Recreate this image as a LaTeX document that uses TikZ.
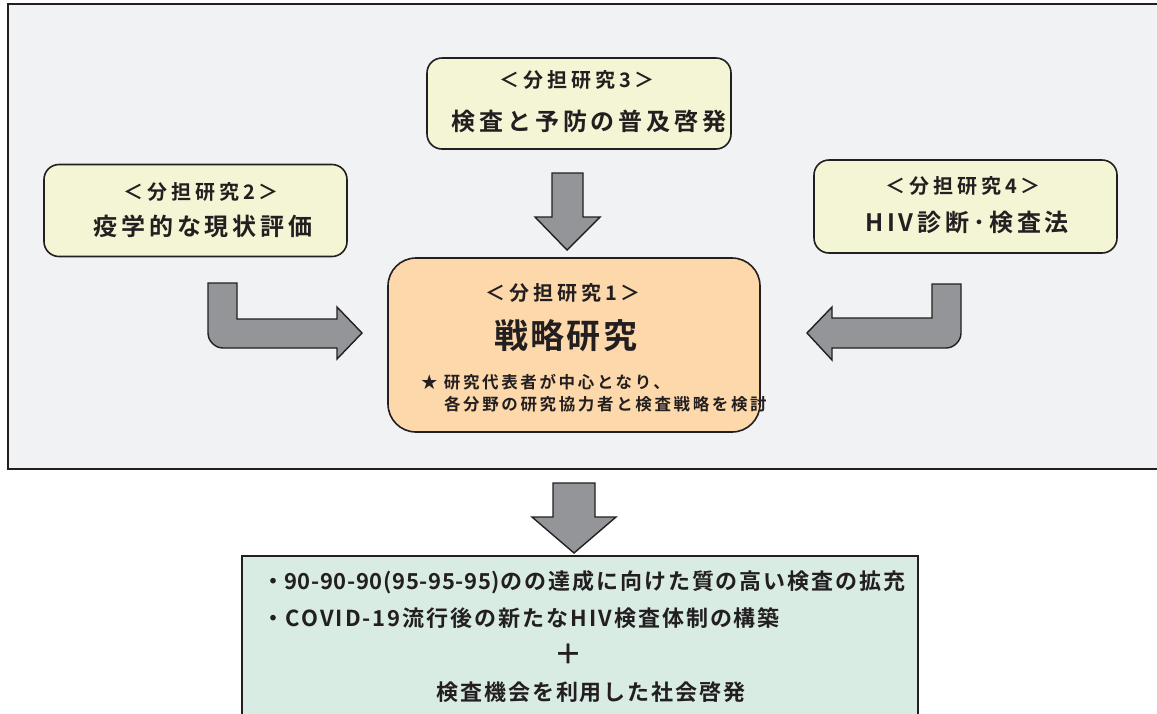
\documentclass[tikz,border=0pt]{standalone}
\usepackage{fontspec}
\newfontfamily\jp{Noto Sans CJK JP}[BoldFont={* Bold}]
\definecolor{outerbg}{HTML}{F1F2F4}
\definecolor{ybox}{HTML}{F4F5D4}
\definecolor{obox}{HTML}{FDD8AB}
\definecolor{gbox}{HTML}{D8ECE3}
\definecolor{arrowfill}{HTML}{939598}
\definecolor{ink}{HTML}{231F20}
\begin{document}
\begin{tikzpicture}[x=1pt,y=-1pt,
  every node/.style={inner sep=0pt,outer sep=0pt,text=ink},
  boxbase/.style={draw=ink,line width=1.6pt,rectangle},
  ybx/.style={boxbase,fill=ybox,rounded corners=15pt},
  blockarrow/.style={draw=ink,line width=1.4pt,fill=arrowfill,line join=miter},
  sub/.style={font=\jp\bfseries\fontsize{20}{23}\selectfont\addfontfeature{LetterSpace=20}},
  ttl/.style={font=\jp\bfseries\fontsize{24}{28}\selectfont\addfontfeature{LetterSpace=16}},
  big/.style={font=\jp\bfseries\fontsize{34}{38}\selectfont\addfontfeature{LetterSpace=6}},
  small/.style={font=\jp\bfseries\fontsize{16.5}{19}\selectfont\addfontfeature{LetterSpace=16},anchor=west},
  gtext/.style={font=\jp\bfseries\fontsize{22}{26}\selectfont\addfontfeature{LetterSpace=9}}
]
\useasboundingbox (0,0) rectangle (1157,713);
\begin{scope}
\clip (0,0) rectangle (1157,713);
% outer panel
\draw[draw=ink,line width=1.8pt,fill=outerbg] (8,4) rectangle (1170,469);
% bottom green box
\draw[draw=ink,line width=1.6pt,fill=gbox] (242,556) rectangle (918,730);
\end{scope}

% sub-study boxes
\node[ybx,minimum width=303pt,minimum height=92pt] (b2) at (195.5,210.5) {};
\node[ybx,minimum width=304pt,minimum height=91pt] (b3) at (579,103.5) {};
\node[ybx,minimum width=303pt,minimum height=93pt] (b4) at (965.5,206.5) {};
\node[boxbase,fill=obox,rounded corners=28pt,minimum width=372pt,minimum height=174pt] (b1) at (574,345) {};

% texts
\node[sub] (t2a) at (201,192) {＜分担研究2＞};
\node[ttl] (t2b) at (203,226) {疫学的な現状評価};
\node[sub] (t3a) at (577,80) {＜分担研究3＞};
\node[ttl] (t3b) at (589,121) {検査と予防の普及啓発};
\node[sub] (t4a) at (963,186) {＜分担研究4＞};
\node[ttl] (t4b) at (967,222) {HIV診断･検査法};
\node[sub] (t1a) at (563,293) {＜分担研究1＞};
\node[big] (t1b) at (566,336) {戦略研究};
\node[small] (t1c) at (421,382) {★ 研究代表者が中心となり、};
\node[small] (t1d) at (444,404) {各分野の研究協力者と検査戦略を検討};

% green box texts
\node[gtext,anchor=west] (g1) at (262,582) {・{\addfontfeature{LetterSpace=3}90-90-90(95-95-95)}のの達成に向けた質の高い検査の拡充};
\node[gtext,anchor=west] (g2) at (262,618) {・COVID-19流行後の新たなHIV検査体制の構築};
\node[font=\jp\bfseries\fontsize{28}{32}\selectfont] (g3) at (568,654) {＋};
\node[gtext] (g4) at (591,692) {検査機会を利用した社会啓発};

% block arrows
\draw[blockarrow] (552,173) -- (583,173) -- (583,217) -- (600,217) -- (567,250) -- (535,217) -- (552,217) -- cycle;
\draw[blockarrow] (553,483) -- (595,483) -- (595,517) -- (616,517) -- (574,553) -- (532,517) -- (553,517) -- cycle;
\draw[blockarrow] (208,283) -- (237,283) -- (237,319) -- (337,319) -- (337,307) -- (362,333) -- (337,359) -- (337,348) -- (223,348) .. controls (215,348) and (208,341) .. (208,333) -- cycle;
\draw[blockarrow] (932,284) -- (961,284) -- (961,333) .. controls (961,341) and (954,348) .. (946,348) -- (832,348) -- (832,360) -- (807,333) -- (832,307) -- (832,318) -- (932,318) -- cycle;
\end{tikzpicture}
\end{document}
